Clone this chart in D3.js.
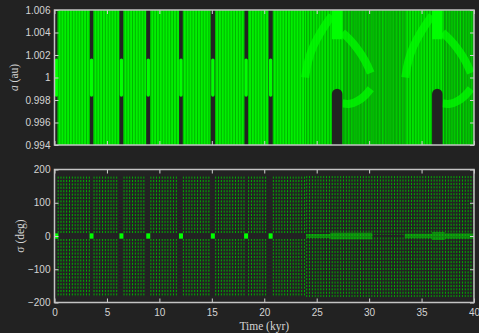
<!DOCTYPE html>
<html>
<head>
<meta charset="utf-8">
<script src="https://cdn.jsdelivr.net/npm/d3@7"></script>
<style>
body { margin: 0; background: #222222; }
svg { display: block; }
.tick text { font-family: "Liberation Sans", Arial, sans-serif; font-size: 10px; fill: #d4d4d4; }
.lbl { font-family: "Liberation Serif", "Times New Roman", serif; font-size: 11.5px; fill: #d4d4d4; }
</style>
</head>
<body>
<div id="chart"></div>
<script>
var timeTicks = [0, 5, 10, 15, 20, 25, 30, 35, 40];
var aTicks = [0.994, 0.996, 0.998, 1, 1.002, 1.004, 1.006];
var sigmaTicks = [-200, -100, 0, 100, 200];

// separatrix crossings in the tadpole phase (kyr)
var gapStart = [3.34, 6.18, 8.74, 11.88, 14.88, 18.08, 20.4];
var gapEnd = [3.72, 6.58, 9.14, 12.24, 15.32, 18.46, 20.82];
var blobTime = [0.18, 3.53, 6.38, 8.94, 12.06, 15.1, 18.27, 20.61];
var phase1Start = 0.3, phase2Start = 24.0, endTime = 40;
var stripeStep = 0.27;   // kyr between oscillation lines
var blobA = [0.9983, 1.0017];
var sigmaBand = [9, 179, -9, -183];

// horseshoe turns (second phase)
var hsTime = [26.95, 36.5];
var hsHalfWidth = 0.5;
var hsColTop = 0.9990;
var capBottom = 1.0034;
var arcUpLeftDt = [-3.05, -2.8, -2.3, -1.6, -0.9, -0.5];
var arcUpLeftA = [1.0000, 1.0015, 1.0028, 1.0040, 1.0050, 1.0055];
var arcUpRightDt = [0.5, 1.2, 2.0, 2.7, 3.2];
var arcUpRightA = [1.0040, 1.0034, 1.0025, 1.0015, 1.0004];
var arcLowRightDt = [0.5, 1.2, 2.0, 2.7, 3.2];
var arcLowRightA = [0.9977, 0.9976, 0.9979, 0.9984, 0.9990];
var darkStart = [27.5, 37.0];
var darkEnd = [33.4, 40];
// sigma near 0 in the horseshoe phase
var bandStart = [24.0, 26.3, 30.4, 33.4, 36.0, 37.2];
var bandEnd = [26.3, 30.3, 33.3, 36.0, 37.2, 40];
var bandHalf = [6, 10, 2.5, 7, 12, 8];

var W = 479, H = 333;
var svg = d3.select("#chart").append("svg").attr("width", W).attr("height", H);

var x = d3.scaleLinear().domain([0, 40]).range([54.5, 474]);
var yA = d3.scaleLinear().domain([0.994, 1.006]).range([145, 10]);
var yS = d3.scaleLinear().domain([-200, 200]).range([302.5, 169.5]);

// clip paths
var defs = svg.append("defs");
defs.append("clipPath").attr("id", "clipTop").append("rect")
    .attr("x", x(0)).attr("y", yA(1.006)).attr("width", x(40) - x(0)).attr("height", yA(0.994) - yA(1.006));
defs.append("clipPath").attr("id", "clipBot").append("rect")
    .attr("x", x(0)).attr("y", yS(200)).attr("width", x(40) - x(0)).attr("height", yS(-200) - yS(200));

var segS = [phase1Start].concat(gapEnd);
var segE = gapStart.concat([phase2Start]);
var segs = segS.map(function(s, i) { return [s, segE[i]]; });

function linesIn(s, e, off) {
    return d3.range(s + (off || 0.05), e, stripeStep);
}

// ---------- top panel ----------
var topG = svg.append("g").attr("clip-path", "url(#clipTop)");

topG.selectAll(".seg").data(segs).enter().append("rect")
    .attr("x", function(d) { return x(d[0]); })
    .attr("width", function(d) { return x(d[1]) - x(d[0]); })
    .attr("y", yA(1.006)).attr("height", yA(0.994) - yA(1.006))
    .attr("fill", "#00f000");

var topLines = [];
segs.forEach(function(d) { topLines = topLines.concat(linesIn(d[0], d[1])); });
topG.selectAll(".tl").data(topLines).enter().append("line")
    .attr("x1", function(d) { return x(d); }).attr("x2", function(d) { return x(d); })
    .attr("y1", yA(1.006)).attr("y2", yA(0.994))
    .attr("stroke", "#00b400").attr("stroke-width", 1);

topG.selectAll(".blob").data(blobTime).enter().append("rect")
    .attr("x", function(d) { return x(d) - 1.7; })
    .attr("width", 3.4)
    .attr("y", yA(blobA[1])).attr("height", yA(blobA[0]) - yA(blobA[1]))
    .attr("rx", 1.7)
    .attr("fill", "#00ff00");

// second phase
topG.append("rect")
    .attr("x", x(phase2Start)).attr("width", x(endTime) - x(phase2Start))
    .attr("y", yA(1.006)).attr("height", yA(0.994) - yA(1.006))
    .attr("fill", "#00e400");
topG.selectAll(".tl2").data(linesIn(phase2Start, endTime)).enter().append("line")
    .attr("x1", function(d) { return x(d); }).attr("x2", function(d) { return x(d); })
    .attr("y1", yA(1.006)).attr("y2", yA(0.994))
    .attr("stroke", "#00aa00").attr("stroke-width", 1);
var darkLines = [];
darkStart.forEach(function(s, i) { darkLines = darkLines.concat(linesIn(s, darkEnd[i], 0.18)); });
topG.selectAll(".dl").data(darkLines).enter().append("line")
    .attr("x1", function(d) { return x(d); }).attr("x2", function(d) { return x(d); })
    .attr("y1", yA(1.006)).attr("y2", yA(0.994))
    .attr("stroke", "#1d2d1d").attr("stroke-width", 0.6).attr("opacity", 0.7);

var arcLine = d3.line().curve(d3.curveBasis);
hsTime.forEach(function(tc) {
    [[arcUpLeftDt, arcUpLeftA], [arcUpRightDt, arcUpRightA], [arcLowRightDt, arcLowRightA]].forEach(function(arc) {
        var pts = arc[0].map(function(dt, i) { return [x(tc + dt), yA(arc[1][i])]; });
        topG.append("path").attr("d", arcLine(pts))
            .attr("fill", "none").attr("stroke", "#00ff00").attr("stroke-width", 8).attr("opacity", 0.7);
    });
    topG.append("rect")
        .attr("x", x(tc - hsHalfWidth)).attr("width", x(tc + hsHalfWidth) - x(tc - hsHalfWidth))
        .attr("y", yA(1.006)).attr("height", yA(capBottom) - yA(1.006))
        .attr("fill", "#00ff00");
    var hw = (x(tc + hsHalfWidth) - x(tc - hsHalfWidth)) / 2;
    topG.append("rect")
        .attr("x", x(tc) - hw).attr("width", 2 * hw)
        .attr("y", yA(hsColTop)).attr("height", yA(0.994) - yA(hsColTop) + 10)
        .attr("rx", hw).attr("fill", "#222222");
});

// ---------- bottom panel ----------
var botG = svg.append("g").attr("clip-path", "url(#clipBot)");
var botLines = [];
segs.forEach(function(d) { botLines = botLines.concat(linesIn(d[0], d[1])); });

[[sigmaBand[0], sigmaBand[1]], [sigmaBand[2], sigmaBand[3]]].forEach(function(b) {
    botG.selectAll(null).data(botLines).enter().append("line")
        .attr("x1", function(d) { return x(d); }).attr("x2", function(d) { return x(d); })
        .attr("y1", yS(b[0])).attr("y2", yS(b[1]))
        .attr("stroke", "#00b000").attr("stroke-width", 1)
        .attr("stroke-dasharray", "2,1.4");
});
botG.selectAll(".sblob").data(blobTime).enter().append("rect")
    .attr("x", function(d) { return x(d) - 2; })
    .attr("width", 4)
    .attr("y", yS(8)).attr("height", yS(-8) - yS(8))
    .attr("fill", "#00ff00");

botG.selectAll(".bl2").data(linesIn(phase2Start, endTime)).enter().append("line")
    .attr("x1", function(d) { return x(d); }).attr("x2", function(d) { return x(d); })
    .attr("y1", yS(180)).attr("y2", yS(-183))
    .attr("stroke", "#00b000").attr("stroke-width", 1)
    .attr("stroke-dasharray", "2,1.4");
bandStart.forEach(function(s, i) {
    var dark = i === 2;
    botG.append("rect")
        .attr("x", x(s)).attr("width", x(bandEnd[i]) - x(s))
        .attr("y", yS(bandHalf[i])).attr("height", yS(-bandHalf[i]) - yS(bandHalf[i]))
        .attr("fill", dark ? "#222222" : "#00f000").attr("opacity", dark ? 1 : 0.45);
});

// ---------- axes ----------
function frame(yScale, yTicks, fmt) {
    var g = svg.append("g");
    g.append("g").attr("transform", "translate(0," + yScale.range()[0] + ")")
        .call(d3.axisBottom(x).tickValues(timeTicks).tickSize(-4).tickPadding(6).tickFormat(fmt ? d3.format("d") : ""));
    g.append("g").attr("transform", "translate(0," + yScale.range()[1] + ")")
        .call(d3.axisTop(x).tickValues(timeTicks).tickSize(-4).tickFormat(""));
    g.append("g").attr("transform", "translate(" + x(0) + ",0)")
        .call(d3.axisLeft(yScale).tickValues(yTicks).tickSize(-4).tickPadding(4).tickFormat(function(d) { return d3.format("")(+d.toFixed(3)); }));
    g.append("g").attr("transform", "translate(" + x(40) + ",0)")
        .call(d3.axisRight(yScale).tickValues(yTicks).tickSize(-4).tickFormat(""));
    g.selectAll(".domain").remove();
    g.selectAll(".tick line").attr("stroke", "#d0d0d0").attr("stroke-width", 1);
    g.append("rect")
        .attr("x", x(0)).attr("y", yScale.range()[1])
        .attr("width", x(40) - x(0)).attr("height", yScale.range()[0] - yScale.range()[1])
        .attr("fill", "none").attr("stroke", "#c4c4c4").attr("stroke-width", 1.5);
}
frame(yA, aTicks, false);
frame(yS, sigmaTicks, true);

// labels
var la = svg.append("text").attr("class", "lbl")
    .attr("transform", "translate(18," + ((yA(0.994) + yA(1.006)) / 2) + ") rotate(-90)")
    .attr("text-anchor", "middle");
la.append("tspan").attr("font-style", "italic").text("a");
la.append("tspan").text(" (au)");
svg.append("text").attr("class", "lbl")
    .attr("transform", "translate(24," + yS(0) + ") rotate(-90)")
    .attr("text-anchor", "middle")
    .text("σ (deg)");
svg.append("text").attr("class", "lbl")
    .attr("x", (x(0) + x(40)) / 2).attr("y", 330)
    .attr("text-anchor", "middle")
    .text("Time (kyr)");
</script>
</body>
</html>
